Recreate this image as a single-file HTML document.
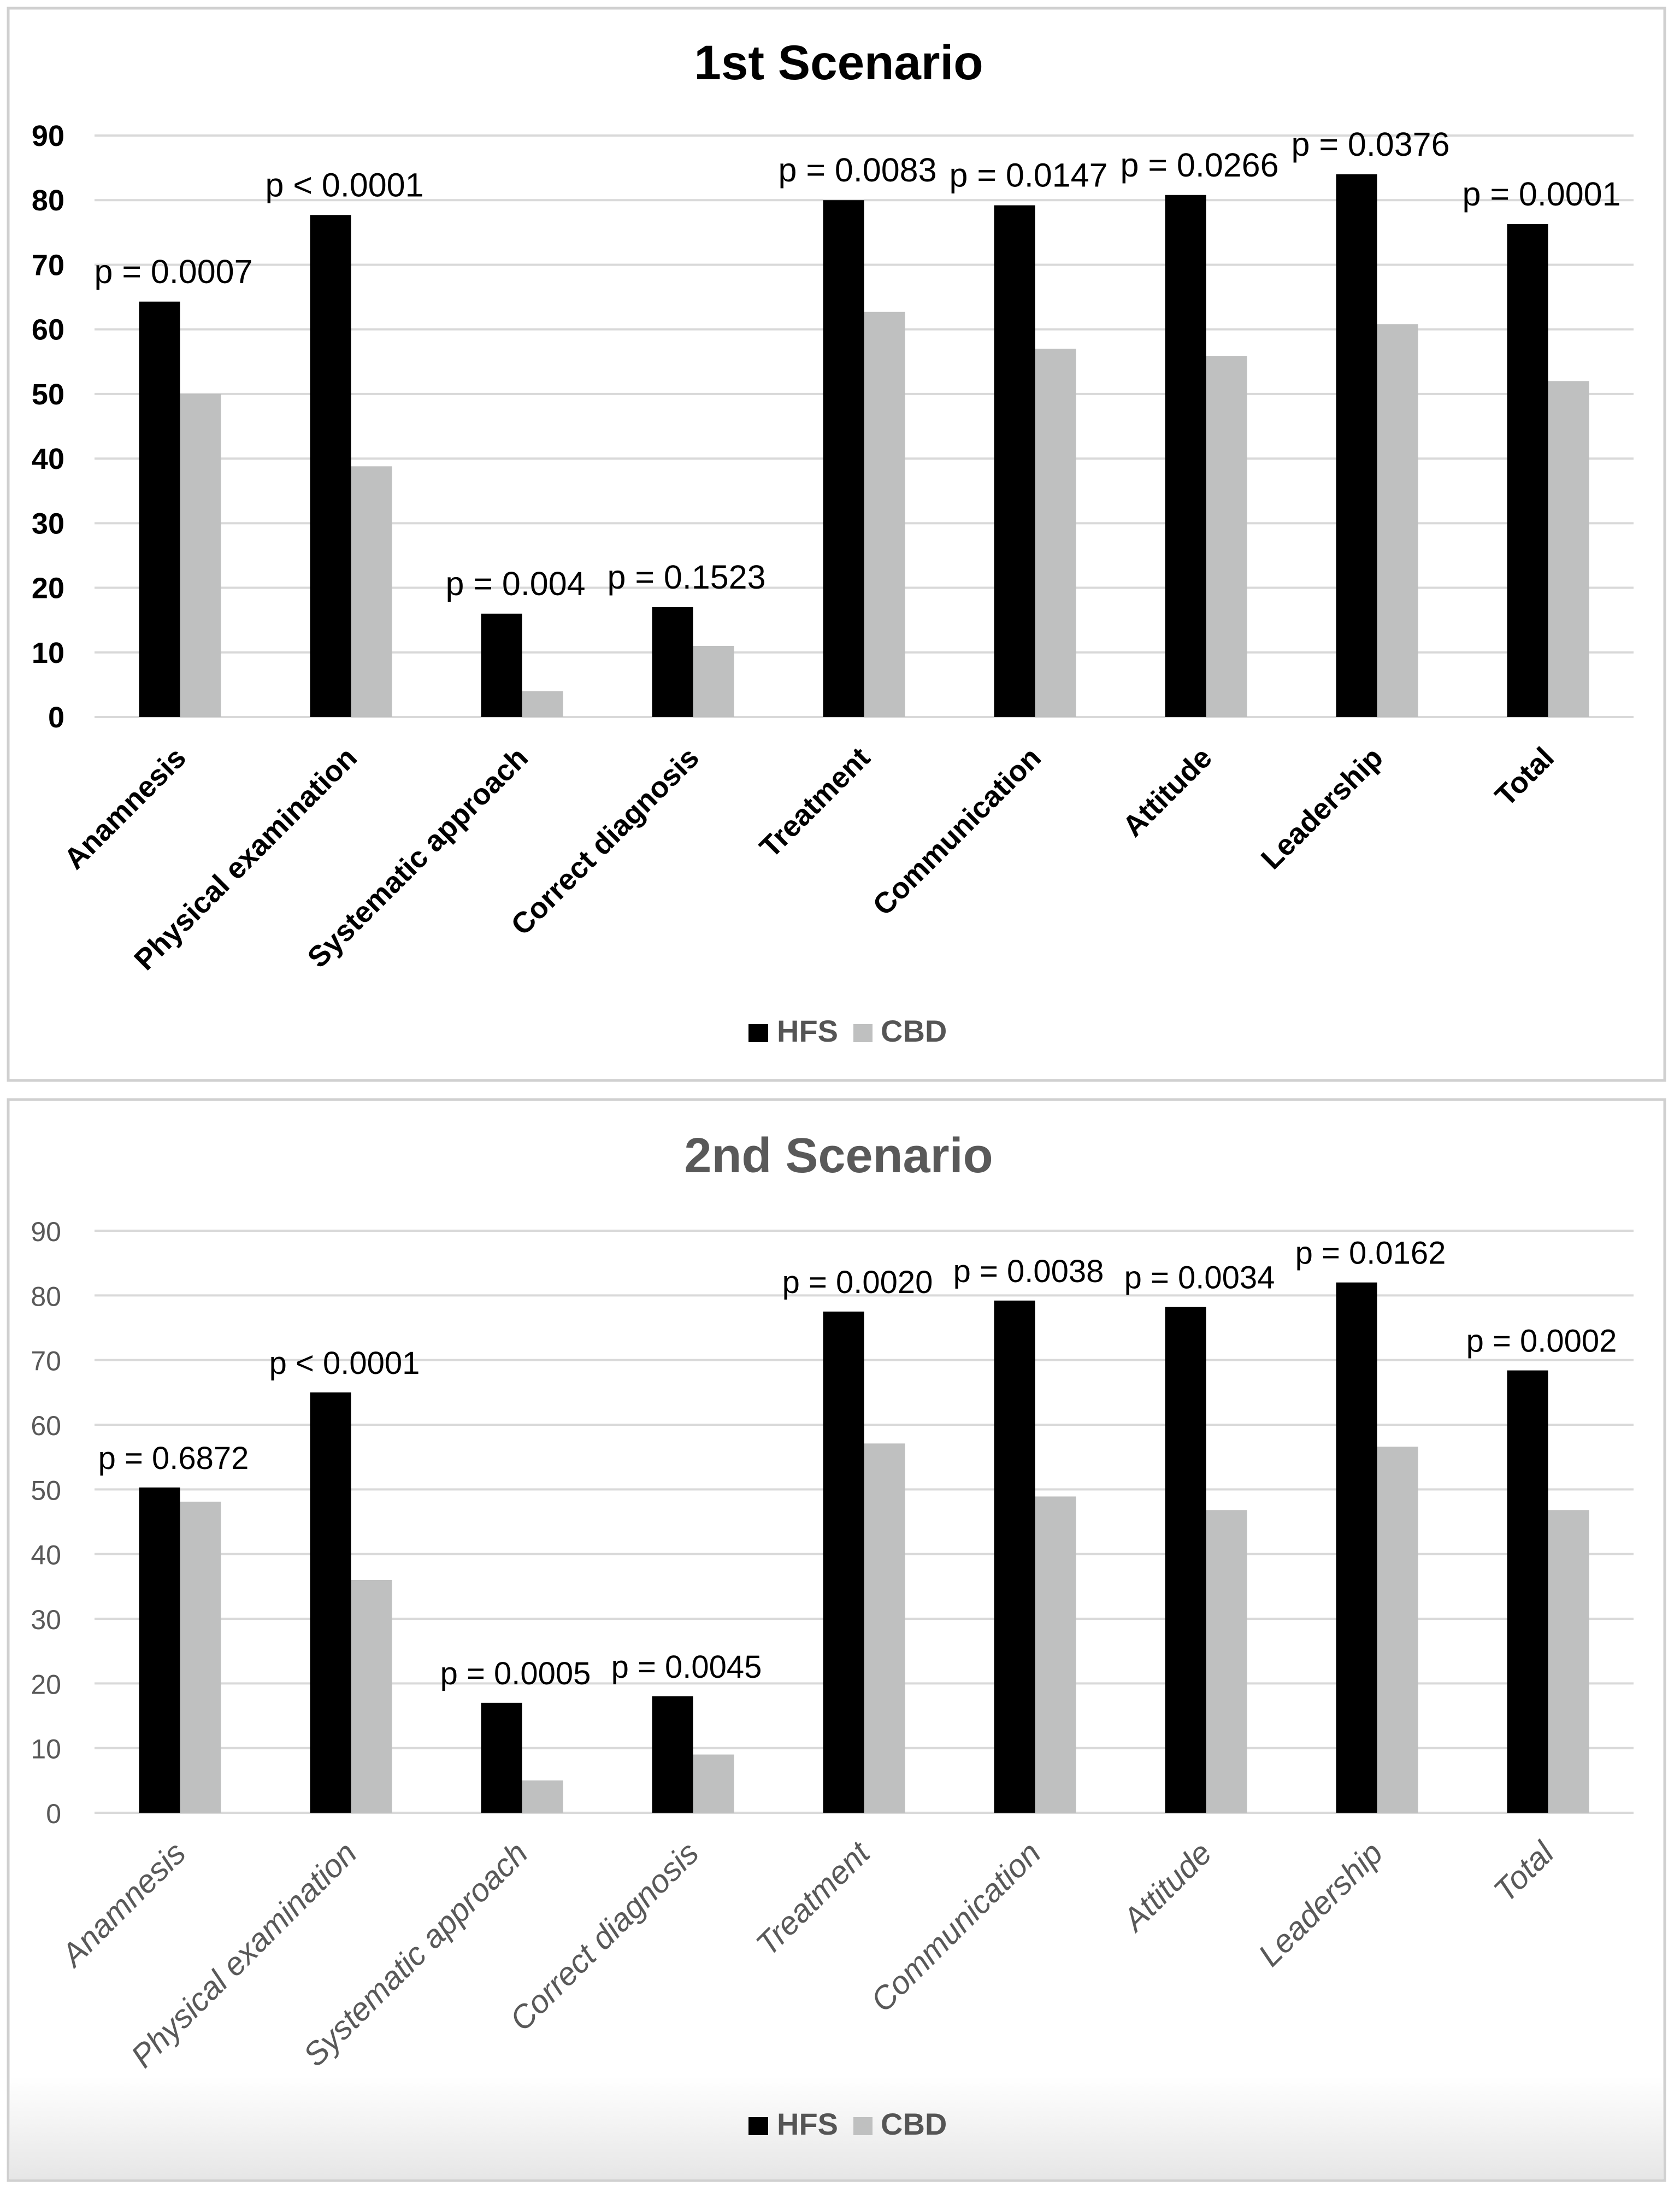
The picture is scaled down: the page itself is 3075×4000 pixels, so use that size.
<!DOCTYPE html>
<html><head><meta charset="utf-8"><style>
html,body{margin:0;padding:0;background:#fff;}
svg{display:block;font-family:"Liberation Sans",sans-serif;}
</style></head><body>
<svg id="root" width="3075" height="4000" viewBox="0 0 3075 4000">
<defs><linearGradient id="fade" x1="0" y1="0" x2="0" y2="1"><stop offset="0" stop-color="#fff"/><stop offset="1" stop-color="#e6e6e6"/></linearGradient></defs>
<rect x="15" y="15" width="3032" height="1962" fill="#fff" stroke="#d0d0d0" stroke-width="5"/>
<rect x="15" y="2012" width="3032" height="1978" fill="#fff" stroke="#d0d0d0" stroke-width="5"/>
<rect x="18" y="3800" width="3026" height="188" fill="url(#fade)"/>
</svg>
<script>
const categories = ["Anamnesis","Physical examination","Systematic approach","Correct diagnosis","Treatment","Communication","Attitude","Leadership","Total"];
const yTicks = [0,10,20,30,40,50,60,70,80,90];
const hfs1 = [64.3,77.7,16,17,80,79.2,80.8,84,76.3];
const cbd1 = [50,38.8,4,11,62.7,57,55.9,60.8,52];
const pvals1 = ["p = 0.0007","p < 0.0001","p = 0.004","p = 0.1523","p = 0.0083","p = 0.0147","p = 0.0266","p = 0.0376","p = 0.0001"];
const hfs2 = [50.3,65,17,18,77.5,79.2,78.2,82,68.4];
const cbd2 = [48.1,36,5,9,57.1,48.9,46.8,56.6,46.8];
const pvals2 = ["p = 0.6872","p < 0.0001","p = 0.0005","p = 0.0045","p = 0.0020","p = 0.0038","p = 0.0034","p = 0.0162","p = 0.0002"];

const NS="http://www.w3.org/2000/svg";
const root=document.getElementById('root');
function mk(tag,attrs,parent,text){const e=document.createElementNS(NS,tag);for(const k in attrs)e.setAttribute(k,attrs[k]);if(text!==undefined)e.textContent=text;(parent||root).appendChild(e);return e;}

function chart(cfg){
  const g=mk('g',{});
  
  
  const L=173,step=313,y0=cfg.y0,y90=cfg.y90;
  const yS=v=>y0-(v/90)*(y0-y90);
  const xC=i=>L+step*(i+0.5);
  const t=mk('text',{x:1535,y:cfg.titleY,'text-anchor':'middle','font-size':cfg.titleSize,'font-weight':'bold',fill:cfg.titleColor,'font-family':cfg.font},g,cfg.title);
  
  
  yTicks.forEach(v=>{
    const ln=mk('line',{x1:L,x2:L+step*9,y1:yS(v),y2:yS(v),stroke:'#d9d9d9','stroke-width':4},g);
    
    
    const tl=mk('text',{x:cfg.tickX,y:yS(v)+19,'text-anchor':'end','font-size':cfg.tickSize,'font-weight':cfg.tickWeight,fill:cfg.tickColor,'font-family':cfg.font},g,String(v));
    
    
  });
  categories.forEach((c,i)=>{
    const bw=75,xc=xC(i);
    const b1=mk('rect',{x:xc-bw,y:yS(cfg.hfs[i]),width:bw,height:y0-yS(cfg.hfs[i]),fill:'#000'},g);
    
    
    const b2=mk('rect',{x:xc,y:yS(cfg.cbd[i]),width:bw,height:y0-yS(cfg.cbd[i]),fill:'#bfc0c0'},g);
    
    
    const p=mk('text',{x:xc-12,y:yS(cfg.hfs[i])-34,'text-anchor':'middle','font-size':cfg.pSize,fill:'#000','font-family':cfg.font},g,cfg.pvals[i]);
    
    
    const ax=xc+14,ay=y0+78;
    const xl=mk('text',{x:ax,y:ay,'text-anchor':'end','font-size':cfg.xSize,'font-weight':cfg.xWeight,'font-style':cfg.xStyle,fill:cfg.xColor,'font-family':cfg.font,transform:`rotate(-45 ${ax} ${ay})`},g,c);
    
    
  });
  const ly=cfg.legendY;
  const s1=mk('rect',{x:1370,y:ly-32,width:36,height:33,fill:'#000'},g);
  
  
  const t1=mk('text',{x:1422,y:ly,'font-size':56,'font-weight':'bold',fill:'#555','font-family':cfg.font},g,'HFS');
  
  
  const s2=mk('rect',{x:1562,y:ly-32,width:35,height:33,fill:'#bfc0c0'},g);
  
  
  const t2=mk('text',{x:1612,y:ly,'font-size':56,'font-weight':'bold',fill:'#555','font-family':cfg.font},g,'CBD');
  
  
}
chart({name:'chart-1st-scenario',title:'1st Scenario',titleY:145,titleSize:89,titleColor:'#000',y0:1312,y90:248,hfs:hfs1,cbd:cbd1,pvals:pvals1,
  font:'"Liberation Sans",sans-serif',tickX:118,tickSize:54,tickWeight:'bold',tickColor:'#000',pSize:61,xSize:54,xWeight:'bold',xStyle:'normal',xColor:'#000',legendY:1906});
chart({name:'chart-2nd-scenario',title:'2nd Scenario',titleY:2145,titleSize:90,titleColor:'#595959',y0:3317,y90:2252,hfs:hfs2,cbd:cbd2,pvals:pvals2,
  font:'"Liberation Sans",sans-serif',tickX:112,tickSize:50,tickWeight:'normal',tickColor:'#595959',pSize:58,xSize:59,xWeight:'normal',xStyle:'italic',xColor:'#595959',legendY:3906});
</script>
</body></html>
